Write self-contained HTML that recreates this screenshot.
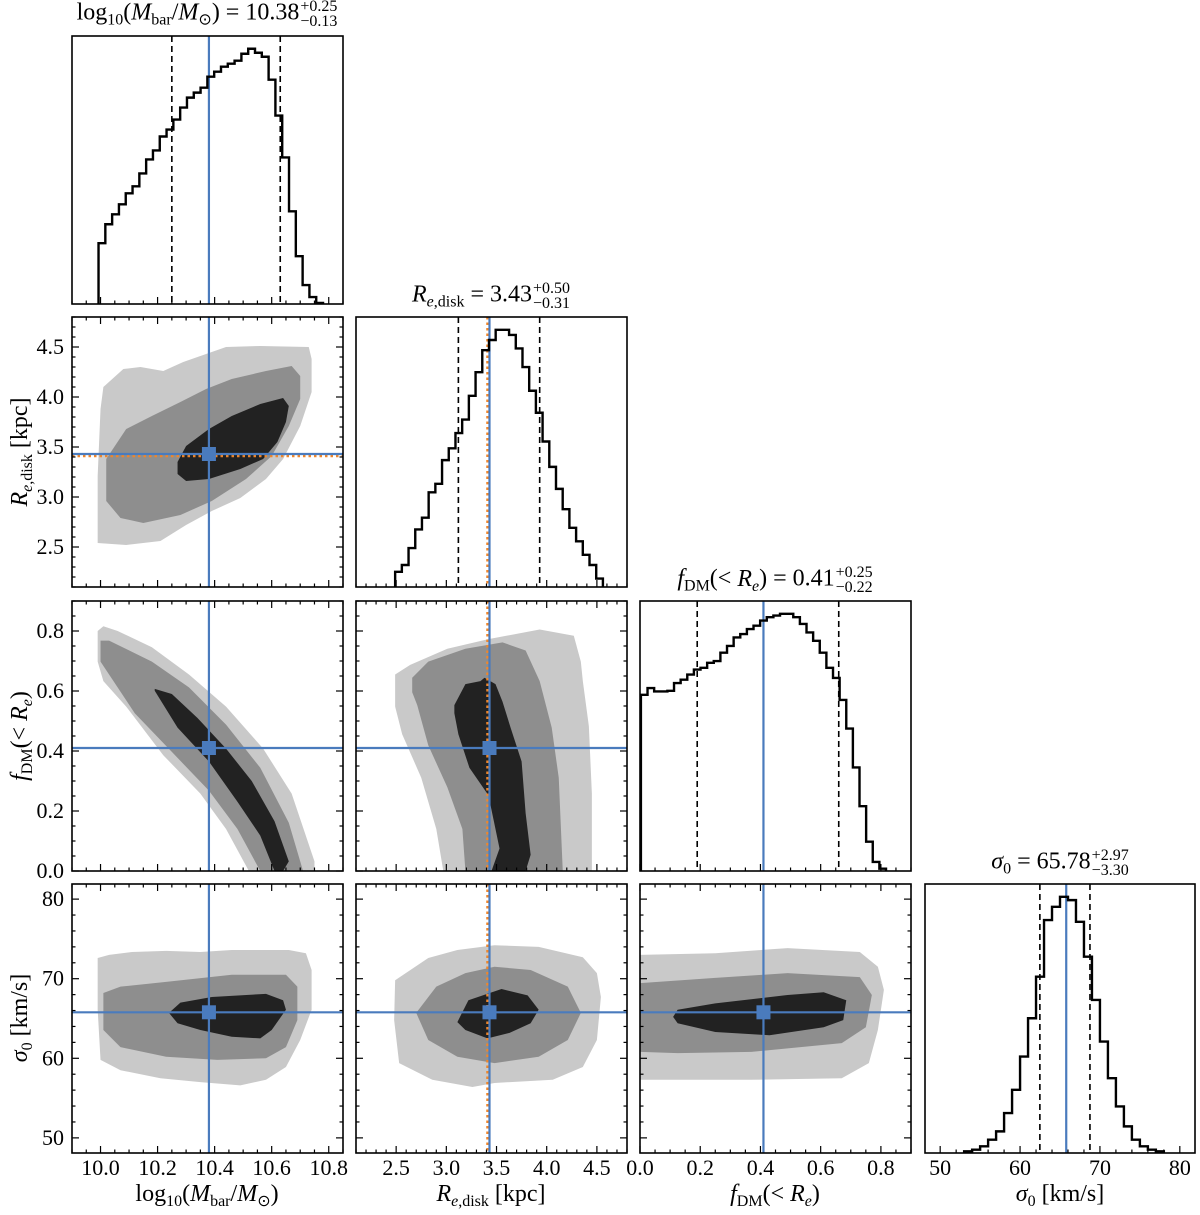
<!DOCTYPE html>
<html><head><meta charset="utf-8">
<style>
html,body{margin:0;padding:0;background:#fff;}
#wrap{position:relative;width:1200px;height:1215px;overflow:hidden;font-family:"Liberation Serif",serif;color:#000;}
svg{position:absolute;left:0;top:0;}
.lbl{position:absolute;white-space:nowrap;font-size:24px;transform:translate(-50%,-50%);line-height:1;}
.rot{transform:translate(-50%,-50%) rotate(-90deg);}
.ss{display:inline-flex;flex-direction:column;font-size:16px;line-height:15px;vertical-align:middle;margin-left:1px;}
sub{font-size:16px;vertical-align:-5px;line-height:0;}
i{font-style:italic;}
</style></head><body>
<div id="wrap">
<svg id="chart" width="1200" height="1215"></svg>

<div class="lbl" style="left:207px;top:14px">log<sub>10</sub>(<i>M</i><sub>bar</sub>/<i>M</i><sub>⊙</sub>) = 10.38<span class="ss"><span>+0.25</span><span>−0.13</span></span></div>
<div class="lbl" style="left:491px;top:296px"><i>R</i><sub><i>e</i>,disk</sub> = 3.43<span class="ss"><span>+0.50</span><span>−0.31</span></span></div>
<div class="lbl" style="left:775px;top:580px"><i>f</i><sub>DM</sub>(&lt; <i>R<sub>e</sub></i>) = 0.41<span class="ss"><span>+0.25</span><span>−0.22</span></span></div>
<div class="lbl" style="left:1060px;top:863px"><i>σ</i><sub>0</sub> = 65.78<span class="ss"><span>+2.97</span><span>−3.30</span></span></div>

<div class="lbl rot" style="left:20px;top:452px"><i>R</i><sub><i>e</i>,disk</sub> [kpc]</div>
<div class="lbl rot" style="left:20px;top:736px"><i>f</i><sub>DM</sub>(&lt; <i>R<sub>e</sub></i>)</div>
<div class="lbl rot" style="left:20px;top:1018px"><i>σ</i><sub>0</sub> [km/s]</div>

<div class="lbl" style="left:207px;top:1194px">log<sub>10</sub>(<i>M</i><sub>bar</sub>/<i>M</i><sub>⊙</sub>)</div>
<div class="lbl" style="left:491px;top:1194px"><i>R</i><sub><i>e</i>,disk</sub> [kpc]</div>
<div class="lbl" style="left:775px;top:1194px"><i>f</i><sub>DM</sub>(&lt; <i>R<sub>e</sub></i>)</div>
<div class="lbl" style="left:1060px;top:1194px"><i>σ</i><sub>0</sub> [km/s]</div>
</div>
<script>
// ---- data ----
const paramNames = ['log-mbar','re-disk','fdm','sigma0'];
const ranges = [[9.9,10.85],[2.1,4.8],[0,0.9],[48.1,81.9]];
const truth = [10.38, 3.43, 0.41, 65.78];
const qLow = [10.25, 3.12, 0.19, 62.48];
const qHigh = [10.63, 3.93, 0.66, 68.75];
const reAlt = 3.41;
const majorTicks = [[10.0,10.2,10.4,10.6,10.8],[2.5,3.0,3.5,4.0,4.5],[0.0,0.2,0.4,0.6,0.8],[50,60,70,80]];
const tickLabels = [['10.0','10.2','10.4','10.6','10.8'],['2.5','3.0','3.5','4.0','4.5'],['0.0','0.2','0.4','0.6','0.8'],['50','60','70','80']];
const minorStep = [0.05,0.1,0.05,2];

const histLogM = [61,80,90,100,111,118,131,145,154,168,175,185,197,207,212,217,228,233,238,241,244,251,256,252,248,225,189,147,93,48,19,7,1];
const histLogMEdges = [9.993,10.78];
const histRe = [45,65,115,170,205,280,305,375,410,455,495,565,635,700,730,760,760,745,705,650,580,515,430,355,290,230,175,135,95,65,25];
const histReEdges = [2.49,4.56];
const histFdm = [522,542,532,532,534,557,567,582,597,602,617,622,647,667,692,702,717,727,742,752,757,762,762,752,732,707,682,647,602,572,507,422,307,192,87,27,7];
const histFdmEdges = [0.003,0.817];
const histSig = [5,10,20,40,65,120,190,290,405,530,700,740,770,760,695,590,460,335,225,140,80,40,20,10,5];
const histSigEdges = [53,78];

// contours: [x,y] in data units
const mRe_l = [[10.01,4.10],[10.08,4.28],[10.14,4.30],[10.22,4.26],[10.29,4.35],[10.37,4.43],[10.44,4.50],[10.56,4.51],[10.73,4.50],[10.74,4.38],[10.74,4.05],[10.70,3.71],[10.64,3.38],[10.58,3.18],[10.49,2.99],[10.39,2.86],[10.30,2.72],[10.21,2.56],[10.09,2.52],[9.99,2.54],[9.99,3.21],[10.00,3.88]];
const mRe_m = [[10.02,3.38],[10.09,3.68],[10.18,3.81],[10.28,3.95],[10.37,4.08],[10.46,4.18],[10.58,4.26],[10.67,4.31],[10.70,4.21],[10.70,3.98],[10.66,3.71],[10.60,3.41],[10.51,3.18],[10.39,2.96],[10.28,2.82],[10.15,2.74],[10.07,2.79],[10.02,2.96],[10.02,3.21]];
const mRe_d = [[10.27,3.35],[10.30,3.51],[10.38,3.68],[10.46,3.81],[10.56,3.93],[10.64,3.99],[10.66,3.91],[10.65,3.75],[10.62,3.55],[10.57,3.38],[10.49,3.28],[10.38,3.18],[10.30,3.16],[10.27,3.23]];
const mF_l = [[9.99,0.80],[10.01,0.816],[10.06,0.80],[10.18,0.746],[10.31,0.655],[10.44,0.548],[10.57,0.408],[10.67,0.258],[10.75,0.032],[10.75,0],[10.52,0],[10.44,0.14],[10.35,0.258],[10.22,0.386],[10.09,0.548],[10.01,0.633],[9.99,0.698]];
const mF_m = [[10.00,0.768],[10.03,0.768],[10.18,0.698],[10.31,0.612],[10.44,0.488],[10.56,0.344],[10.66,0.161],[10.71,0],[10.56,0],[10.48,0.14],[10.38,0.268],[10.25,0.397],[10.12,0.526],[10.03,0.655],[10.00,0.698]];
const mF_d = [[10.19,0.607],[10.25,0.59],[10.34,0.51],[10.44,0.408],[10.53,0.30],[10.61,0.166],[10.66,0.032],[10.64,0],[10.61,0],[10.56,0.118],[10.48,0.231],[10.38,0.365],[10.27,0.478],[10.19,0.601]];
const reF_l = [[2.49,0.655],[2.64,0.687],[3.01,0.741],[3.42,0.773],[3.93,0.805],[4.27,0.784],[4.34,0.698],[4.36,0.633],[4.42,0.483],[4.45,0.258],[4.45,0],[2.97,0],[2.90,0.14],[2.75,0.311],[2.56,0.456],[2.49,0.548]];
const reF_m = [[2.66,0.644],[2.82,0.698],[3.19,0.741],[3.56,0.762],[3.79,0.735],[3.93,0.633],[4.05,0.478],[4.12,0.311],[4.16,0],[3.19,0],[3.16,0.14],[3.01,0.279],[2.82,0.419],[2.71,0.553],[2.66,0.596]];
const reF_d = [[3.08,0.553],[3.19,0.623],[3.34,0.633],[3.38,0.644],[3.49,0.623],[3.56,0.564],[3.64,0.478],[3.75,0.365],[3.79,0.193],[3.84,0.054],[3.79,0],[3.45,0],[3.53,0.075],[3.42,0.252],[3.23,0.344],[3.12,0.456],[3.08,0.526]];
const mS_l = [[9.99,72.6],[10.03,73.0],[10.11,73.35],[10.23,73.5],[10.35,73.35],[10.46,73.6],[10.66,73.6],[10.72,73.2],[10.74,71.1],[10.74,66.1],[10.70,62.3],[10.65,58.9],[10.58,57.3],[10.49,56.6],[10.35,57.0],[10.21,57.5],[10.07,58.5],[10.00,59.8],[9.99,66.1]];
const mS_m = [[10.01,68.2],[10.07,69.0],[10.23,69.6],[10.46,70.5],[10.65,70.5],[10.69,69.0],[10.69,64.8],[10.65,61.4],[10.58,60.0],[10.41,59.8],[10.23,60.2],[10.07,61.4],[10.01,63.55],[10.01,66.1]];
const mS_d = [[10.24,65.7],[10.28,67.0],[10.39,67.7],[10.58,68.1],[10.64,67.3],[10.65,66.1],[10.60,63.55],[10.56,62.5],[10.46,62.7],[10.35,63.55],[10.27,64.4]];
const reS_l = [[2.49,69.8],[2.82,72.6],[3.11,73.6],[3.48,74.2],[3.92,74.0],[4.36,72.7],[4.50,70.7],[4.54,67.7],[4.50,62.3],[4.36,58.9],[4.06,57.3],[3.48,56.9],[3.26,56.4],[2.86,57.3],[2.53,59.4],[2.48,64.8]];
const reS_m = [[2.70,65.7],[2.90,69.0],[3.19,70.7],[3.48,71.5],[3.84,71.1],[4.21,69.0],[4.34,65.7],[4.21,62.3],[3.92,60.2],[3.48,59.4],[3.11,60.2],[2.82,62.3]];
const reS_d = [[3.11,64.55],[3.22,67.3],[3.55,68.7],[3.81,67.9],[3.92,66.1],[3.84,64.4],[3.63,63.2],[3.41,62.5],[3.19,63.55]];
const fS_l = [[0,73.0],[0.25,73.2],[0.49,73.85],[0.73,73.35],[0.79,71.5],[0.81,68.6],[0.79,63.55],[0.76,59.4],[0.67,57.5],[0.37,57.3],[0.125,57.3],[0,57.3]];
const fS_m = [[0,69.45],[0.25,70.1],[0.49,70.7],[0.73,70.2],[0.77,67.95],[0.75,63.9],[0.67,61.9],[0.37,60.8],[0.125,60.65],[0,60.8]];
const fS_d = [[0.11,65.2],[0.125,66.1],[0.25,66.9],[0.49,67.95],[0.61,68.3],[0.685,67.3],[0.675,64.8],[0.61,63.9],[0.43,62.9],[0.25,63.3],[0.125,64.4]];

// ---- layout ----
const cols = [[72,343],[356,627],[640,911],[925,1195]];
const rows = [[36,304],[317,587],[601,871],[884,1153]];
const BLUE = '#4a7bbd', ORANGE = '#f0862a';
const NS = 'http://www.w3.org/2000/svg';
const svg = document.getElementById('chart');
function mk(tag, attrs, parent){const e=document.createElementNS(NS,tag);for(const k in attrs)e.setAttribute(k,attrs[k]);(parent||svg).appendChild(e);return e;}
function sx(i,v){const r=ranges[i];return cols[i][0]+(v-r[0])/(r[1]-r[0])*(cols[i][1]-cols[i][0]);}
function sy(j,v){const r=ranges[j];return rows[j][1]-(v-r[0])/(r[1]-r[0])*(rows[j][1]-rows[j][0]);}

const contours = {
 '1,0':[mRe_l,mRe_m,mRe_d], '2,0':[mF_l,mF_m,mF_d], '2,1':[reF_l,reF_m,reF_d],
 '3,0':[mS_l,mS_m,mS_d], '3,1':[reS_l,reS_m,reS_d], '3,2':[fS_l,fS_m,fS_d]
};
const hists = [[histLogM,histLogMEdges],[histRe,histReEdges],[histFdm,histFdmEdges],[histSig,histSigEdges]];
const fills = ['#c9c9c9','#8e8e8e','#222222'];
const levelNames = ['contour-3sigma','contour-2sigma','contour-1sigma'];

const defs = mk('defs',{});
function ticksFor(i){const r=ranges[i];const out=[];const s=minorStep[i];for(let v=Math.ceil(r[0]/s-1e-6)*s;v<=r[1]+1e-9;v+=s){out.push(v);}return out;}

for(let j=0;j<4;j++){
 for(let i=0;i<=j;i++){
  const x0=cols[i][0],x1=cols[i][1],y0=rows[j][0],y1=rows[j][1];
  const g = mk('g',{});
  
  
  const cid='clip'+i+j;
  const cp=mk('clipPath',{id:cid},defs); mk('rect',{x:x0,y:y0,width:x1-x0,height:y1-y0},cp);
  const inner = mk('g',{'clip-path':'url(#'+cid+')'},g);
  if(i===j){
   const h=hists[i][0], ed=hists[i][1];
   const mx=Math.max(...h)*1.05; const bw=(ed[1]-ed[0])/h.length;
   const hy=v=>y1-v/mx*(y1-y0);
   let d='M'+sx(i,ed[0])+','+y1;
   h.forEach((c,k)=>{const xa=sx(i,ed[0]+k*bw),xb=sx(i,ed[0]+(k+1)*bw);d+=' L'+xa+','+hy(c)+' L'+xb+','+hy(c);});
   d+=' L'+sx(i,ed[1])+','+y1;
   [qLow[i],qHigh[i]].forEach((q,k)=>{
    const l=mk('line',{x1:sx(i,q),x2:sx(i,q),y1:y0,y2:y1,stroke:'#000','stroke-width':1.6,'stroke-dasharray':'6,4'},inner);
    
    
   });
   if(i===1){const o=mk('line',{x1:sx(1,reAlt),x2:sx(1,reAlt),y1:y0,y2:y1,stroke:ORANGE,'stroke-width':2.5,'stroke-dasharray':'2.5,3'},inner);
    
    }
   const b=mk('line',{x1:sx(i,truth[i]),x2:sx(i,truth[i]),y1:y0,y2:y1,stroke:BLUE,'stroke-width':2.2},inner);
   
   
   const p=mk('path',{d:d,fill:'none',stroke:'#000','stroke-width':2.4},inner);
   
   
  } else {
   const cs=contours[j+','+i];
   cs.forEach((poly,k)=>{
    const pts=poly.map(p=>sx(i,p[0])+','+sy(j,p[1])).join(' ');
    const pg=mk('polygon',{points:pts,fill:fills[k]},inner);
    
    
   });
   if(i===1){const o=mk('line',{x1:sx(1,reAlt),x2:sx(1,reAlt),y1:y0,y2:y1,stroke:ORANGE,'stroke-width':2.5,'stroke-dasharray':'2.5,3'},inner);
    
    }
   if(j===1){const o=mk('line',{x1:x0,x2:x1,y1:sy(1,reAlt),y2:sy(1,reAlt),stroke:ORANGE,'stroke-width':2.5,'stroke-dasharray':'2.5,3'},inner);
    
    }
   const bv=mk('line',{x1:sx(i,truth[i]),x2:sx(i,truth[i]),y1:y0,y2:y1,stroke:BLUE,'stroke-width':2.2},inner);
   
   
   const bh=mk('line',{x1:x0,x2:x1,y1:sy(j,truth[j]),y2:sy(j,truth[j]),stroke:BLUE,'stroke-width':2.2},inner);
   
   
   const sq=mk('rect',{x:sx(i,truth[i])-7,y:sy(j,truth[j])-7,width:14,height:14,fill:BLUE},inner);
   
   
  }
  // ticks
  const tg=mk('g',{stroke:'#000','stroke-width':1.2},g);
  
  
  const isMajor=(v,k)=>majorTicks[k].some(m=>Math.abs(m-v)<1e-6);
  ticksFor(i).forEach(v=>{const L=isMajor(v,i)?7:3.5;const x=sx(i,v);
   mk('line',{x1:x,x2:x,y1:y1,y2:y1-L},tg);
   if(i!==j) mk('line',{x1:x,x2:x,y1:y0,y2:y0+L},tg);});
  if(i!==j) ticksFor(j).forEach(v=>{const L=isMajor(v,j)?7:3.5;const y=sy(j,v);
   mk('line',{x1:x0,x2:x0+L,y1:y,y2:y},tg); mk('line',{x1:x1,x2:x1-L,y1:y,y2:y},tg);});
  const fr=mk('rect',{x:x0,y:y0,width:x1-x0,height:y1-y0,fill:'none',stroke:'#000','stroke-width':1.6},g);
  
  
  // tick labels
  if(j===3){majorTicks[i].forEach((v,k)=>{const t=mk('text',{x:sx(i,v),y:1175,'text-anchor':'middle','font-size':22,'font-family':'Liberation Serif, serif'},g);t.textContent=tickLabels[i][k];
   
   });}
  if(i===0&&j>0){majorTicks[j].forEach((v,k)=>{const t=mk('text',{x:64,y:sy(j,v)+7,'text-anchor':'end','font-size':22,'font-family':'Liberation Serif, serif'},g);t.textContent=tickLabels[j][k];
   
   });}
 }
}
</script>
</body></html>
